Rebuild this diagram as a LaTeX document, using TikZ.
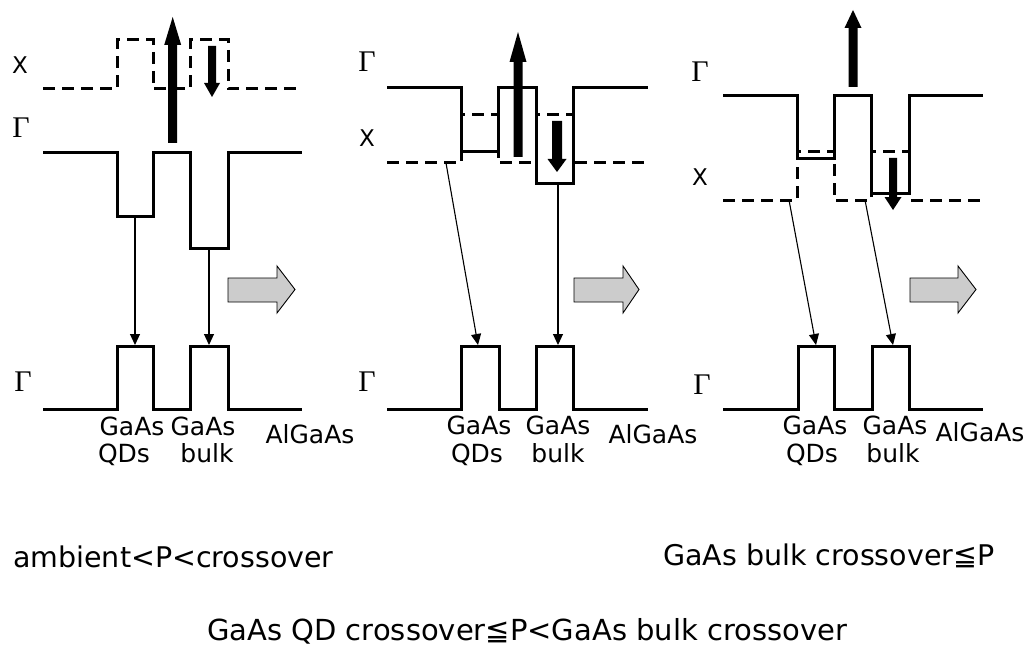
\documentclass[tikz,border=0pt]{standalone}
\usepackage{fontspec}
\setmainfont{DejaVu Sans}
\newfontfamily\greekserif{Liberation Serif}
\usetikzlibrary{arrows.meta}
\newcommand{\fatarrow}[6]{\fill (#1-#4,#2) -- (#1-#4,#3+#5) -- (#1-#6,#3+#5) -- (#1,#3) -- (#1+#6,#3+#5) -- (#1+#4,#3+#5) -- (#1+#4,#2) -- cycle;}
\newcommand{\grayarr}[3]{\draw[grayarrow] (#1,278) -- (#2,278) -- (#2,266) -- (#3,289.5) -- (#2,313) -- (#2,302) -- (#1,302) -- cycle;}
\tikzset{
  band/.style={line width=3pt, line join=miter},
  xband/.style={band, dash pattern=on 12pt off 7pt},
  thinarr/.style={line width=1.1pt, -{Triangle[length=11pt,width=10pt]}},
  grayarrow/.style={draw=black, line width=0.9pt, fill=gray!40},
  lbl/.style={font=\fontsize{25}{25}\selectfont, inner sep=0pt, anchor=base},
  sym/.style={font=\greekserif\fontsize{30}{30}\selectfont, inner sep=0pt},
  xsym/.style={font=\fontsize{23}{23}\selectfont, inner sep=0pt},
  caption/.style={inner sep=0pt, anchor=base west}
}
\begin{document}
\begin{tikzpicture}[x=1pt,y=-1pt]
\useasboundingbox (0,0) rectangle (1031,650);
% ---------- panel 1 ----------
\node[xsym] (x1) at (20,65) {X};
\node[sym] (g1) at (21,128) {Γ};
\node[sym] (gb1) at (23,382) {Γ};
\draw[xband] (43,89) -- (117,89) -- (117,40) -- (153,40) -- (153,89) -- (190,89) -- (190,40) -- (228,40) -- (228,89) -- (302,89);
\draw[band] (43,153) -- (117,153) -- (117,216) -- (153,216) -- (153,153) -- (190,153) -- (190,248) -- (228,248) -- (228,153) -- (302,153);
\draw[band] (43,409) -- (117,409) -- (117,346) -- (153,346) -- (153,409) -- (190,409) -- (190,346) -- (228,346) -- (228,409) -- (302,409);
\fatarrow{172.7}{143}{17}{4.5}{28}{8.5}
\fatarrow{212}{46}{97}{4}{-14}{8}
\coordinate (a1s) at (135,216); \coordinate (a1e) at (135,345);
\coordinate (b1s) at (209,248); \coordinate (b1e) at (209,345);
\draw[thinarr] (a1s) -- (a1e);
\draw[thinarr] (b1s) -- (b1e);
\grayarr{228}{277}{295}
\node[lbl] (ga1) at (132,435) {GaAs};
\node[lbl] (qd1) at (124,462) {QDs};
\node[lbl] (gb1t) at (203,435) {GaAs};
\node[lbl] (bk1) at (207,462) {bulk};
\node[lbl] (al1) at (310,443) {AlGaAs};
% ---------- panel 2 ----------
\node[sym] (g2) at (367,62) {Γ};
\node[xsym] (x2) at (367,138) {X};
\node[sym] (gb2) at (367,382) {Γ};
\draw[xband] (387,163) -- (461,163) -- (461,115) -- (498,115) -- (498,163) -- (536,163) -- (536,115) -- (573,115) -- (573,163) -- (648,163);
\draw[band] (387,88) -- (461,88) -- (461,152) -- (498,152) -- (498,88) -- (536,88) -- (536,183) -- (573,183) -- (573,88) -- (648,88);
\draw[band] (387,409) -- (461,409) -- (461,346) -- (499,346) -- (499,409) -- (536,409) -- (536,346) -- (573,346) -- (573,409) -- (648,409);
\fatarrow{518}{157}{32}{4.5}{30}{8.5}
\fatarrow{557}{121}{172}{5}{-13}{9.5}
\coordinate (a2s) at (446,163); \coordinate (a2e) at (478,345);
\coordinate (b2s) at (558,183); \coordinate (b2e) at (558,345);
\draw[thinarr] (a2s) -- (a2e);
\draw[thinarr] (b2s) -- (b2e);
\grayarr{574}{623}{639}
\node[lbl] (ga2) at (479,434) {GaAs};
\node[lbl] (qd2) at (477,462) {QDs};
\node[lbl] (gb2t) at (558,434) {GaAs};
\node[lbl] (bk2) at (558,462) {bulk};
\node[lbl] (al2) at (653,443) {AlGaAs};
% ---------- panel 3 ----------
\node[sym] (g3) at (700,72) {Γ};
\node[xsym] (x3) at (700,177) {X};
\node[sym] (gb3) at (702,385) {Γ};
\draw[xband] (723,200) -- (797,200) -- (797,152) -- (834,152) -- (834,200) -- (871,200) -- (871,152) -- (909,152) -- (909,200) -- (983,200);
\draw[band] (723,96) -- (797,96) -- (797,159) -- (834,159) -- (834,96) -- (871,96) -- (871,193) -- (909,193) -- (909,96) -- (983,96);
\draw[band] (723,409) -- (798,409) -- (798,346) -- (834,346) -- (834,409) -- (872,409) -- (872,346) -- (909,346) -- (909,409) -- (983,409);
\fatarrow{853}{87}{10}{4.5}{18}{8.5}
\fatarrow{893}{158}{210}{4}{-13}{8.5}
\coordinate (a3s) at (789,200); \coordinate (a3e) at (816,345);
\coordinate (b3s) at (865,200); \coordinate (b3e) at (893,345);
\draw[thinarr] (a3s) -- (a3e);
\draw[thinarr] (b3s) -- (b3e);
\grayarr{910}{958}{976}
\node[lbl] (ga3) at (815,434) {GaAs};
\node[lbl] (qd3) at (812,462) {QDs};
\node[lbl] (gb3t) at (895,434) {GaAs};
\node[lbl] (bk3) at (893,462) {bulk};
\node[lbl] (al3) at (980,441) {AlGaAs};
% ---------- captions ----------
\node[caption, font=\fontsize{28.5}{28.5}\selectfont] (c1) at (13,567) {ambient<P<crossover};
\node[caption, font=\fontsize{28.5}{28.5}\selectfont] (c2) at (663,565) {GaAs bulk crossover≦P};
\node[caption, font=\fontsize{29}{29}\selectfont] (c3) at (207,640) {GaAs QD crossover≦P<GaAs bulk crossover};
\end{tikzpicture}
\end{document}
